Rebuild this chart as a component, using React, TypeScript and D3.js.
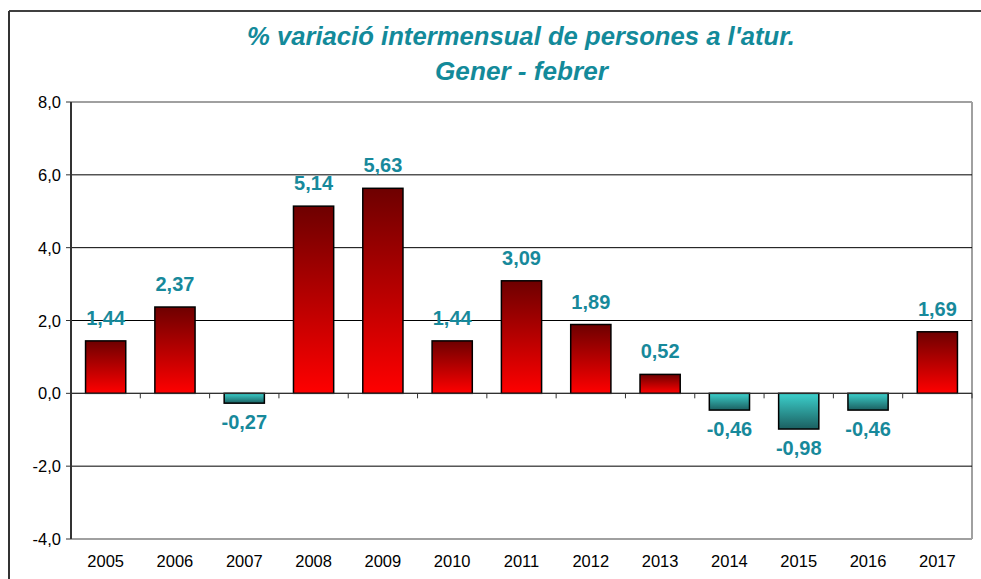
import React from "react";
import * as d3 from "d3";

const years = ["2005","2006","2007","2008","2009","2010","2011","2012","2013","2014","2015","2016","2017"];
const values = [1.44, 2.37, -0.27, 5.14, 5.63, 1.44, 3.09, 1.89, 0.52, -0.46, -0.98, -0.46, 1.69];
const yTicks = [-4, -2, 0, 2, 4, 6, 8];
const titleLines = ["% variació intermensual de persones a l'atur.", "Gener - febrer"];

const W = 981, H = 579;
const M = { left: 71, right: 972, top: 102, bottom: 539 };
const titleX = [247, 435];
const titleY = [45, 80];
const titleLen = [548, 173];

export default function App() {
  const x = d3.scaleBand().domain(years).range([M.left, M.right]).paddingInner(0.42).paddingOuter(0.21);
  const y = d3.scaleLinear().domain([-4, 8]).range([M.bottom, M.top]);
  const fmt = (v: number) => v.toFixed(1).replace(".", ",");
  const fmt2 = (v: number) => v.toFixed(2).replace(".", ",");
  const step = (M.right - M.left) / years.length;
  const teal = "#17899b";
  return (
    <svg width={W} height={H} style={{ position: "absolute", left: 0, top: 0, fontFamily: "Liberation Sans, Arial, sans-serif" }}>
      <defs>
        <linearGradient id="gRed" x1="0" y1="0" x2="0" y2="1">
          <stop offset="0" stopColor="#6e0000" />
          <stop offset="1" stopColor="#ff0000" />
        </linearGradient>
        <linearGradient id="gTeal" x1="0" y1="0" x2="0" y2="1">
          <stop offset="0" stopColor="#3cd0cc" />
          <stop offset="1" stopColor="#1b5f60" />
        </linearGradient>
      </defs>
      <rect x={0} y={0} width={W} height={H} fill="#fff" />
      <line x1={9} y1={11} x2={W} y2={11} stroke="#000" strokeWidth={1.5} />
      <line x1={9} y1={11} x2={9} y2={H} stroke="#333" strokeWidth={2} />
      {titleLines.map((t, i) => (
        <text key={i} x={titleX[i]} y={titleY[i]} textLength={titleLen[i]} lengthAdjust="spacingAndGlyphs" fill="#138a9a" fontSize={25.5} fontWeight="bold" fontStyle="italic">{t}</text>
      ))}
      {/* plot border */}
      <line x1={M.left} y1={M.top} x2={M.right} y2={M.top} stroke="#a0a0a0" strokeWidth={2} />
      <line x1={M.right} y1={M.top} x2={M.right} y2={M.bottom} stroke="#a0a0a0" strokeWidth={2} />
      <line x1={M.left} y1={M.bottom} x2={M.right} y2={M.bottom} stroke="#a0a0a0" strokeWidth={2} />
      {yTicks.filter(t => t > -4 && t < 8).map(t => (
        <line key={t} x1={M.left} x2={M.right} y1={y(t)} y2={y(t)} stroke="#000" strokeWidth={1} />
      ))}
      {yTicks.map(t => (
        <g key={"yt" + t}>
          <line x1={M.left - 5} x2={M.left} y1={y(t)} y2={y(t)} stroke="#333" strokeWidth={1} />
          <text x={M.left - 10} y={y(t) + 6} textAnchor="end" fontSize={16.5} fill="#000">{fmt(t)}</text>
        </g>
      ))}
      {years.map((yr, i) => (
        <line key={"xt" + i} x1={M.left + (i + 1) * step} x2={M.left + (i + 1) * step} y1={y(0)} y2={y(0) + 5} stroke="#333" strokeWidth={1} />
      ))}
      <line x1={M.left} y1={M.top} x2={M.left} y2={M.bottom} stroke="#333" strokeWidth={2} />
      {years.map((yr, i) => {
        const v = values[i];
        const x0 = x(yr)!;
        const top = y(Math.max(0, v));
        const bot = y(Math.min(0, v));
        return (
          <g key={yr}>
            <rect x={x0} y={top} width={x.bandwidth()} height={bot - top} fill={v >= 0 ? "url(#gRed)" : "url(#gTeal)"} stroke="#000" strokeWidth={1.5} />
            <text x={x0 + x.bandwidth() / 2} y={v >= 0 ? top - 16 : bot + 26} textAnchor="middle" fontSize={20} fontWeight="bold" fill={teal}>{fmt2(v)}</text>
            <text x={x0 + x.bandwidth() / 2} y={567} textAnchor="middle" fontSize={16.5} fill="#000">{yr}</text>
          </g>
        );
      })}
      <line x1={M.left} y1={y(0)} x2={M.right} y2={y(0)} stroke="#333" strokeWidth={1} />
    </svg>
  );
}
